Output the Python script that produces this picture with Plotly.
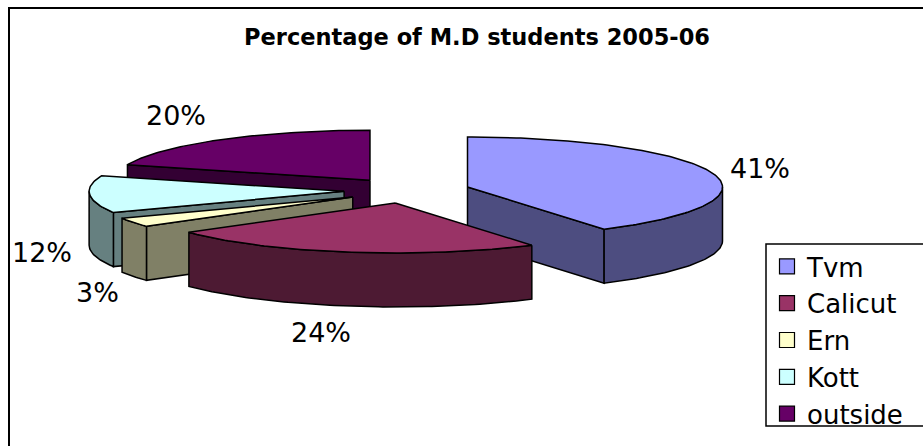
import math
import plotly.graph_objects as go

W, H = 923, 446
title = "Percentage of M.D students 2005-06"
categories = ["Tvm", "Calicut", "Ern", "Kott", "outside"]
values = [41, 24, 3, 12, 20]
labels = ["41%", "24%", "3%", "12%", "20%"]
top_colors = ["#9999FF", "#993366", "#FFFFCC", "#CCFFFF", "#660066"]
side_colors = ["#4D4D80", "#4D1A33", "#808066", "#668080", "#330033"]
label_xy = [(760, 168), (321, 332), (97, 292), (42, 252), (176, 115)]

# projection of the tilted, exploded pie into pixels
CX, CY, RX, RY, DEPTH = 407, 190.5, 255, 50, 54
EX, EY = 63, 12.7
DRAW_ORDER = [0, 4, 3, 2, 1]

total = sum(values)
angles = [0]
for v in values:
    angles.append(angles[-1] + v / total * 360)


def rim(cx, cy, a):
    r = math.radians(a)
    return cx + RX * math.sin(r), cy - RY * math.cos(r)


def poly(pts, color, width=1.5):
    xs = [p[0] for p in pts] + [pts[0][0]]
    ys = [p[1] for p in pts] + [pts[0][1]]
    return go.Scatter(x=xs, y=ys, mode="lines", fill="toself", fillcolor=color,
                      line=dict(color="black", width=width),
                      showlegend=False, hoverinfo="skip")


fig = go.Figure()
for i in DRAW_ORDER:
    a0, a1 = angles[i], angles[i + 1]
    mid = math.radians((a0 + a1) / 2)
    cx = CX + EX * math.sin(mid)
    cy = CY - EY * math.cos(mid)
    down = lambda p: (p[0], p[1] + DEPTH)
    steps = max(4, int(a1 - a0))
    arc = [rim(cx, cy, a0 + (a1 - a0) * k / steps) for k in range(steps + 1)]
    # visible cut faces
    if 0 < a1 < 180:
        e = rim(cx, cy, a1)
        fig.add_trace(poly([(cx, cy), e, down(e), (cx, cy + DEPTH)], side_colors[i]))
    if 180 < a0 < 360:
        e = rim(cx, cy, a0)
        fig.add_trace(poly([(cx, cy), e, down(e), (cx, cy + DEPTH)], side_colors[i]))
    # outer wall: the front half of the rim
    lo, hi = max(a0, 90), min(a1, 270)
    if hi > lo:
        n = max(4, int(hi - lo))
        front = [rim(cx, cy, lo + (hi - lo) * k / n) for k in range(n + 1)]
        fig.add_trace(poly(front + [down(p) for p in reversed(front)], side_colors[i]))
    # top face
    fig.add_trace(poly([(cx, cy)] + arc, top_colors[i]))

# legend entries
for name, color in zip(categories, top_colors):
    fig.add_trace(go.Scatter(x=[None], y=[None], mode="markers", name=name,
                             marker=dict(symbol="square", size=15, color=color,
                                         line=dict(color="black", width=1.2))))

# data labels
for (x, y), text in zip(label_xy, labels):
    fig.add_annotation(x=x, y=y, text=text, showarrow=False,
                       font=dict(family="DejaVu Sans", size=27, color="black"))

# chart frame (runs off the right and bottom of the picture) and legend box
fig.add_shape(type="rect", xref="x", yref="y", x0=9, y0=8, x1=W + 10, y1=H + 10,
              line=dict(color="black", width=2), layer="below")
fig.add_shape(type="rect", xref="x", yref="y", x0=766, y0=244, x1=W + 10, y1=426,
              line=dict(color="black", width=1.5), fillcolor="white", layer="above")

fig.update_layout(
    width=W, height=H, autosize=False,
    margin=dict(l=0, r=0, t=0, b=0),
    paper_bgcolor="white", plot_bgcolor="white",
    title=dict(text="<b>" + title + "</b>", x=477 / W, xanchor="center",
               y=1 - 37 / H, yanchor="middle",
               font=dict(family="DejaVu Sans", size=22.5, color="black")),
    xaxis=dict(range=[0, W], visible=False, fixedrange=True),
    yaxis=dict(range=[H, 0], visible=False, fixedrange=True),
    legend=dict(x=767 / W, y=1 - 243 / H, xanchor="left", yanchor="top",
                bgcolor="rgba(0,0,0,0)", borderwidth=0,
                font=dict(family="DejaVu Sans", size=26, color="black"),
                tracegroupgap=0, itemwidth=30),
)
fig.write_html("out.html", config=dict(displayModeBar=False),
               post_script="document.body.style.margin='0';")
